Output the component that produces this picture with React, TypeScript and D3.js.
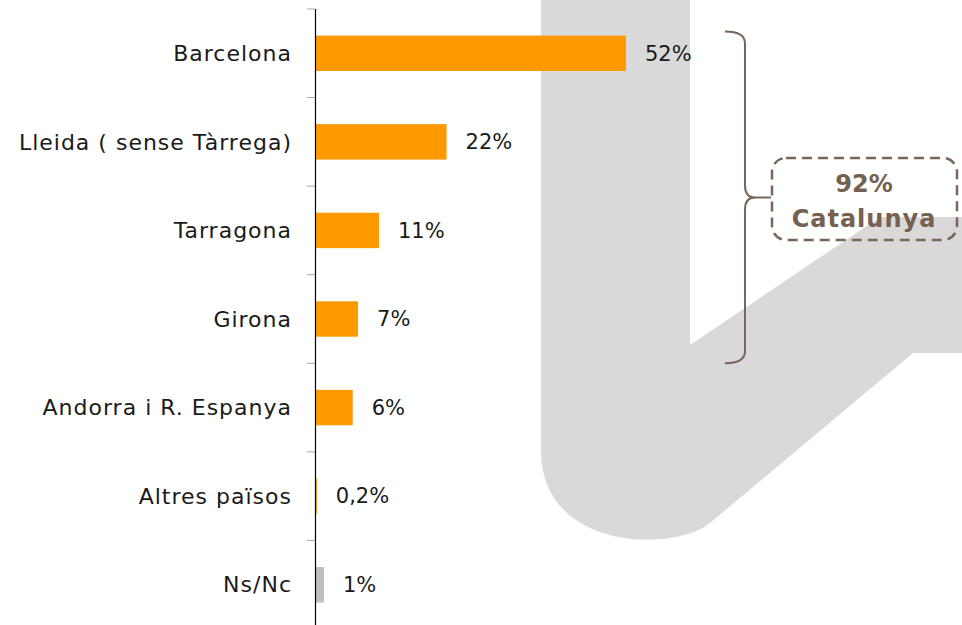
import React, { useEffect, useRef } from 'react';
import * as d3 from 'd3';

const categories = [
  'Barcelona',
  'Lleida ( sense Tàrrega)',
  'Tarragona',
  'Girona',
  'Andorra i R. Espanya',
  'Altres països',
  'Ns/Nc',
];
const values = [52, 22, 10.7, 7.2, 6.3, 0.3, 1.5];
const valueLabels = ['52%', '22%', '11%', '7%', '6%', '0,2%', '1%'];
const barColors = ['#FF9900', '#FF9900', '#FF9900', '#FF9900', '#FF9900', '#FF9900', '#BFBFBF'];
const groupLabel = ['92%', 'Catalunya'];

const WIDTH = 962;
const HEIGHT = 625;

const App: React.FC = () => {
  const svgRef = useRef<SVGSVGElement>(null);

  useEffect(() => {
    if (!svgRef.current) return;
    const svg = d3.select(svgRef.current);
    svg.selectAll('*').remove();

    const axisX = 315;
    const top = 9;
    const bottom = 629;

    // background watermark shape
    svg.append('path')
      .attr('d', 'M541,0 L690,0 L690,345 L880,217 L962,217 L962,353 L913,353 L710,523 C675,552 541,552 541,450 Z')
      .attr('fill', '#d9d9d9');

    const y = d3.scaleBand<string>()
      .domain(categories)
      .range([top, bottom])
      .paddingInner(0.6)
      .paddingOuter(0.3);

    const x = d3.scaleLinear()
      .domain([0, 100])
      .range([axisX, axisX + 598]);

    const step = y.step();

    // tick marks at band boundaries
    const g = svg.append('g');
    d3.range(categories.length + 1).forEach(i => {
      const ty = top + i * ((bottom - top) / categories.length);
      g.append('line')
        .attr('x1', axisX - 8).attr('x2', axisX)
        .attr('y1', ty).attr('y2', ty)
        .attr('stroke', '#a6a6a6')
        .attr('stroke-width', 1);
    });

    // bars
    svg.selectAll('.bar')
      .data(categories)
      .enter()
      .append('rect')
      .attr('class', 'bar')
      .attr('x', axisX)
      .attr('y', d => y(d)!)
      .attr('width', (d, i) => x(values[i]) - axisX)
      .attr('height', y.bandwidth())
      .attr('fill', (d, i) => barColors[i]);

    // axis line
    svg.append('line')
      .attr('x1', axisX + 0.5).attr('x2', axisX + 0.5)
      .attr('y1', top).attr('y2', HEIGHT)
      .attr('stroke', '#000')
      .attr('stroke-width', 1.2);

    // category labels
    svg.selectAll('.cat')
      .data(categories)
      .enter()
      .append('text')
      .attr('class', 'cat')
      .attr('x', axisX - 23)
      .attr('y', d => y(d)! + y.bandwidth() / 2)
      .attr('dy', '0.35em')
      .attr('text-anchor', 'end')
      .style('font-family', '"DejaVu Sans", sans-serif')
      .style('font-size', '22px')
      .style('letter-spacing', '1px')
      .attr('fill', '#1a1a1a')
      .text(d => d);

    // value labels
    svg.selectAll('.val')
      .data(categories)
      .enter()
      .append('text')
      .attr('class', 'val')
      .attr('x', (d, i) => x(values[i]) + 19)
      .attr('y', d => y(d)! + y.bandwidth() / 2)
      .attr('dy', '0.35em')
      .style('font-family', '"DejaVu Sans", sans-serif')
      .style('font-size', '21px')
      .attr('fill', '#1a1a1a')
      .text((d, i) => valueLabels[i]);

    // brace spanning the Catalan provinces
    const by0 = y(categories[0])! - 4;
    const by1 = top + 4 * step;
    const bmid = (by0 + by1) / 2;
    const bx = 745;
    svg.append('path')
      .attr('d', `M${bx - 20},${by0} Q${bx},${by0} ${bx},${by0 + 12} L${bx},${bmid - 12} Q${bx},${bmid} ${bx + 10},${bmid} L${bx + 26},${bmid} M${bx + 10},${bmid} Q${bx},${bmid} ${bx},${bmid + 12} L${bx},${by1 - 12} Q${bx},${by1} ${bx - 20},${by1}`)
      .attr('fill', 'none')
      .attr('stroke', '#7a6658')
      .attr('stroke-width', 2);

    // dashed box with total
    svg.append('rect')
      .attr('x', 772).attr('y', 158)
      .attr('width', 185).attr('height', 82)
      .attr('rx', 14).attr('ry', 14)
      .attr('fill', 'none')
      .attr('stroke', '#7a6658')
      .attr('stroke-width', 2.5)
      .attr('stroke-dasharray', '10,6');

    groupLabel.forEach((t, i) => {
      svg.append('text')
        .attr('x', 864)
        .attr('y', 192 + i * 35)
        .attr('text-anchor', 'middle')
        .style('font-family', '"DejaVu Sans", sans-serif')
        .style('font-size', '24px')
        .style('letter-spacing', i === 1 ? '1px' : '0px')
        .style('font-weight', 'bold')
        .attr('fill', '#76604f')
        .text(t);
    });
  }, []);

  return (
    <svg
      ref={svgRef}
      width={WIDTH}
      height={HEIGHT}
      style={{ position: 'absolute', left: 0, top: 0, background: '#fff' }}
    />
  );
};

export default App;
